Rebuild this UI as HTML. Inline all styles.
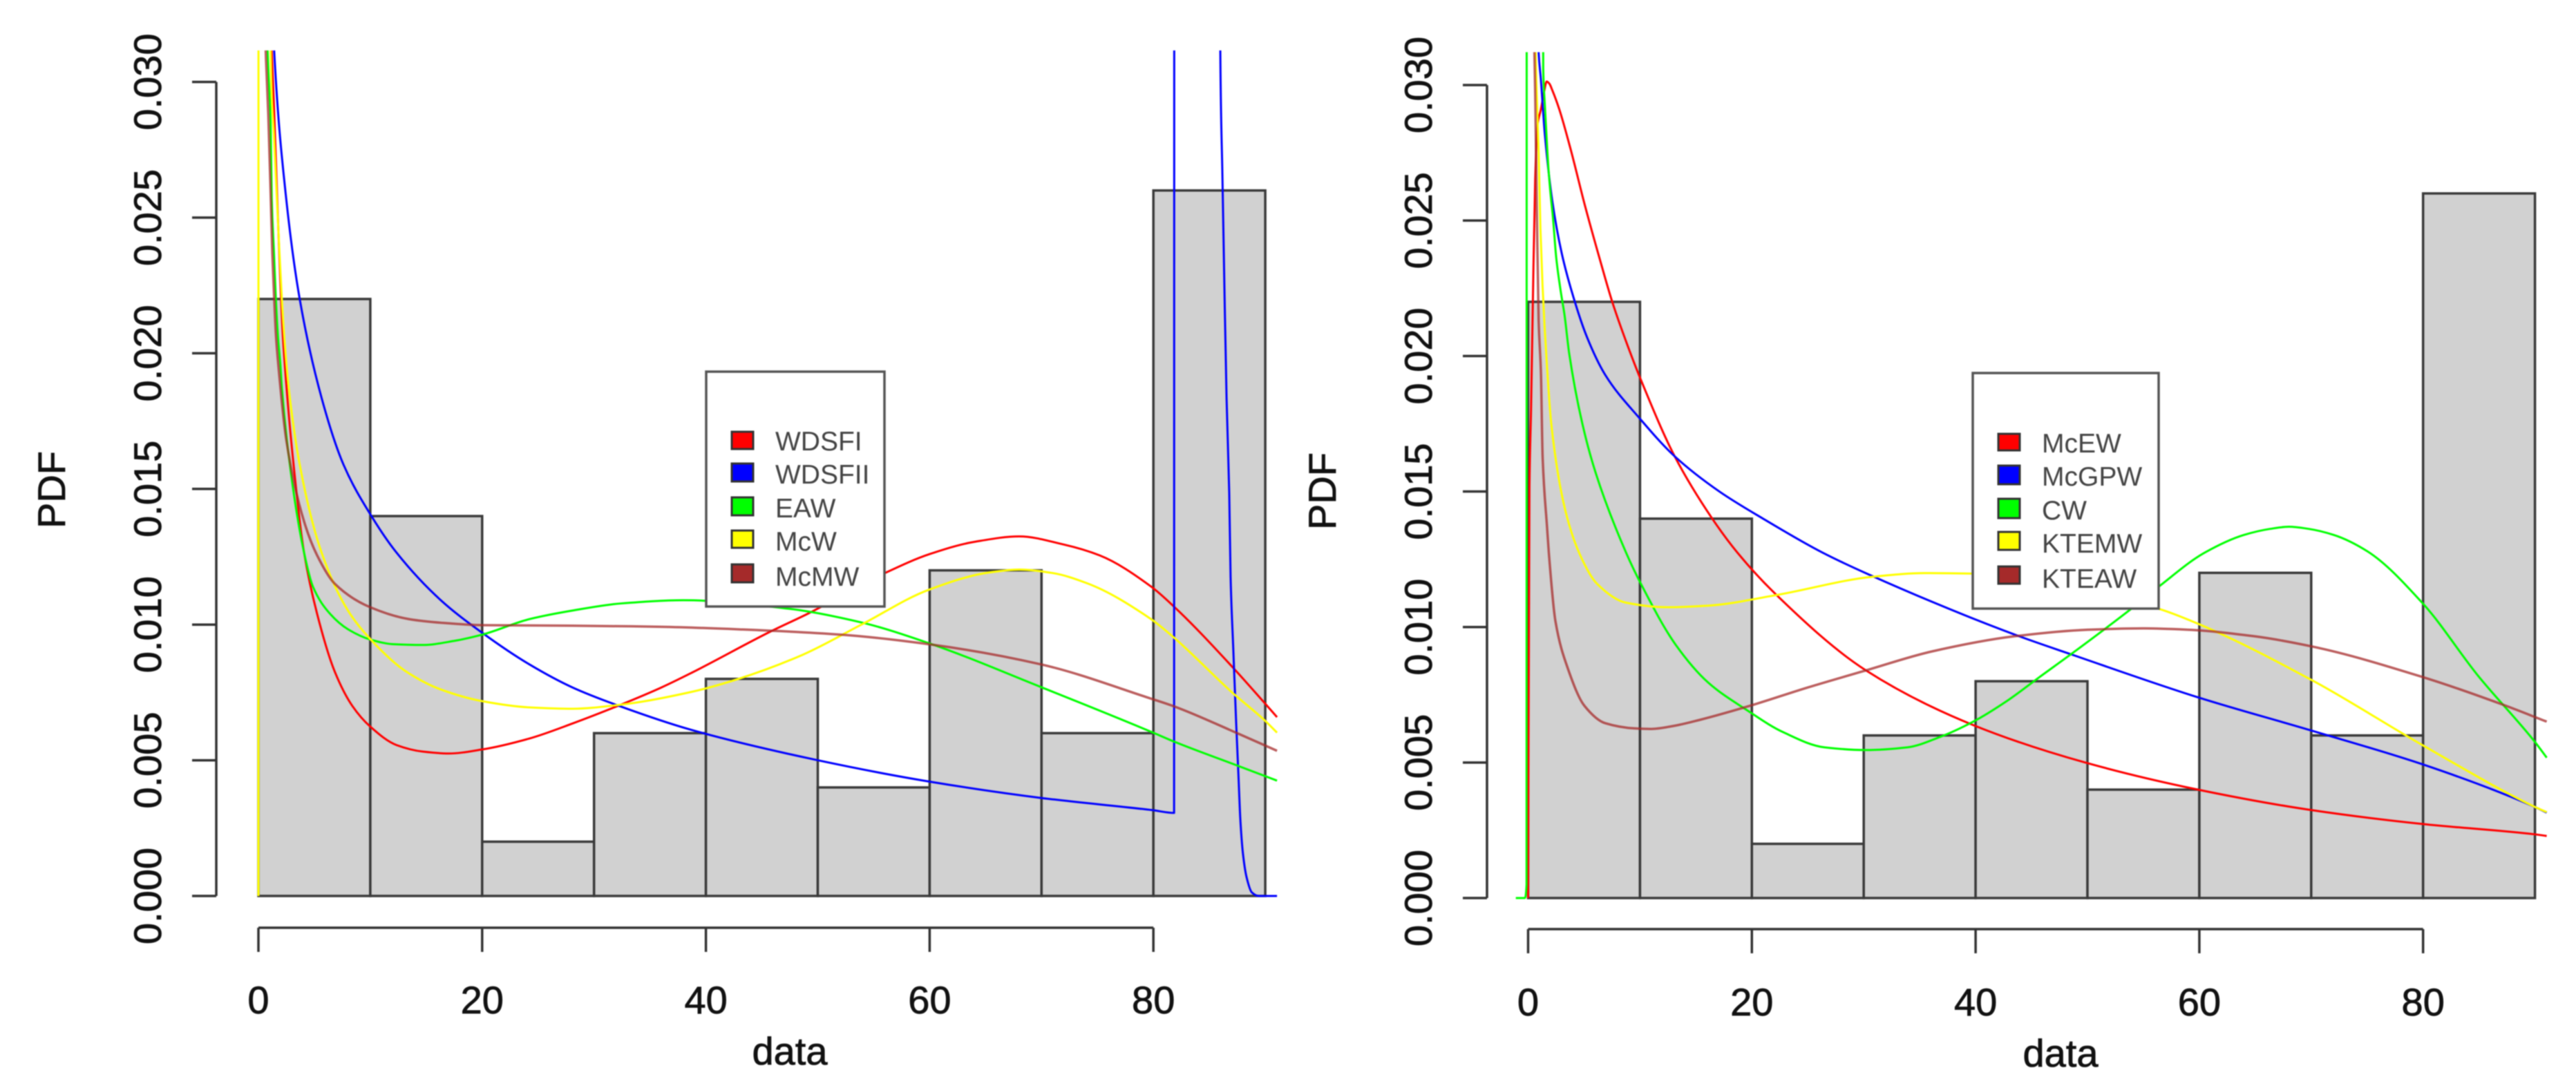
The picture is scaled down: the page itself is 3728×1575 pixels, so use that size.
<!DOCTYPE html>
<html lang="en">
<head>
<meta charset="utf-8">
<title>PDF histograms with fitted curves</title>
<style>
html,body{margin:0;padding:0;background:#fff;}
body{width:3728px;height:1575px;overflow:hidden;}
svg{display:block;filter:blur(0.7px);font-family:"Liberation Sans",sans-serif;}
.leg{font-size:39px;fill:#444;}
.sw{stroke:#333;stroke-width:3;}
.lb{fill:#fff;stroke:#555;stroke-width:3.5;}
</style>
</head>
<body>
<svg id="figure" xmlns="http://www.w3.org/2000/svg" width="3728" height="1575" viewBox="0 0 3728 1575">
  <defs>
    <clipPath id="clip-left"><rect x="300" y="73" width="1600" height="1300"/></clipPath>
    <clipPath id="clip-right"><rect x="2160" y="75.5" width="1600" height="1300"/></clipPath>
  </defs>
  <rect x="0" y="0" width="3728" height="1575" fill="#fff"/>
  <g id="left-panel"></g>
  <g>
    <rect class="lb" x="1022" y="538" width="258" height="340"/>
    <rect class="sw" x="1059" y="625" width="31" height="25" fill="#ff0000"/>
    <text class="leg" x="1122" y="652">WDSFI</text>
    <rect class="sw" x="1059" y="671" width="31" height="26" fill="#0000ff"/>
    <text class="leg" x="1122" y="700">WDSFII</text>
    <rect class="sw" x="1059" y="720" width="31" height="26" fill="#00ff00"/>
    <text class="leg" x="1122" y="749">EAW</text>
    <rect class="sw" x="1059" y="768" width="31" height="25" fill="#ffff00"/>
    <text class="leg" x="1122" y="797">McW</text>
    <rect class="sw" x="1059" y="817" width="31" height="26" fill="#a52a2a"/>
    <text class="leg" x="1122" y="848">McMW</text>
  </g>
  <g id="right-panel"></g>
  <g>
    <rect class="lb" x="2855" y="540" width="269" height="341"/>
    <rect class="sw" x="2892" y="628" width="31" height="24" fill="#ff0000"/>
    <text class="leg" x="2955" y="655">McEW</text>
    <rect class="sw" x="2892" y="674" width="31" height="27" fill="#0000ff"/>
    <text class="leg" x="2955" y="703">McGPW</text>
    <rect class="sw" x="2892" y="722" width="31" height="28" fill="#00ff00"/>
    <text class="leg" x="2955" y="752">CW</text>
    <rect class="sw" x="2892" y="770" width="31" height="26" fill="#ffff00"/>
    <text class="leg" x="2955" y="800">KTEMW</text>
    <rect class="sw" x="2892" y="820" width="31" height="25" fill="#a52a2a"/>
    <text class="leg" x="2955" y="851">KTEAW</text>
  </g>
</svg>
<script>
const binEdges = [0,10,20,30,40,50,60,70,80,90];
const binDensities = [0.022,0.014,0.002,0.006,0.008,0.004,0.012,0.006,0.026];
const xTicks = [0,20,40,60,80];
const xTickLabels = ['0','20','40','60','80'];
const yTicks = [0,0.005,0.01,0.015,0.02,0.025,0.03];
const yTickLabels = ['0.000','0.005','0.010','0.015','0.020','0.025','0.030'];
const xAxisTitle = 'data';
const yAxisTitle = 'PDF';

/* left panel */
const wdsfiX = [1.05,1.4,1.75,2.16,2.6,3.09,4.08,5.25,6.84,8.4,10,12.35,14.7,17,20,24.2,28.1,32.4,36,38.7,45.8,49.1,56,60,64,68,72,75.2,79.8,81.9,87.06,89.9,91.05];
const wdsfiY = [0.0325,0.029,0.0249,0.0208,0.0183,0.0161,0.01265,0.01039,0.00825,0.007,0.00624,0.00556,0.00532,0.00525,0.0054,0.0058,0.00636,0.00705,0.00768,0.00822,0.00975,0.0104,0.0119,0.0126,0.01305,0.01325,0.01295,0.01255,0.0114,0.01064,0.00844,0.00713,0.00659];
const wdsfiiX = [1.2,1.4,2.43,3.69,5.65,7.6,10.1,12.35,16.3,20,24.2,28.1,32.4,38.7,49.9,59.9,70,79.97,81.85,81.87,85.9,85.98,86.17,86.35,86.54,86.78,86.9,87.15,87.4,87.6,87.77,88,88.33,88.8,89.4,91.05];
const wdsfiiY = [0.0335,0.0312,0.0259,0.022,0.01835,0.0159,0.014,0.01265,0.0109,0.0097,0.00854,0.00768,0.00698,0.00612,0.00501,0.00422,0.00361,0.00316,0.00306,0.05,0.05,0.0312,0.02653,0.02238,0.01836,0.01484,0.01176,0.00901,0.00636,0.00448,0.00283,0.00158,0.00069,0.00013,0,0];
const eawX = [0.7,0.88,1.09,1.19,1.4,1.56,1.75,1.96,2.1,2.9,4.08,4.87,6.4,8,10,12,14.7,17.5,20,24.2,28.1,32.4,38,47.5,53.9,59.9,70,79.8,81.9,87.6,91.05];
const eawY = [0.0325,0.0305,0.0285,0.0257,0.0236,0.022,0.0206,0.0196,0.0187,0.0156,0.01265,0.0114,0.0104,0.00983,0.00945,0.00928,0.00925,0.0094,0.00963,0.0102,0.01052,0.01078,0.0109,0.01058,0.01008,0.00932,0.00769,0.00605,0.00568,0.00479,0.00425];
const mcwX = [0,0.01,1,1.09,1.4,1.8,2.12,2.64,3.69,5.65,8.03,10.2,13.1,16.3,20,24.2,28.1,32.4,38.7,42.9,48.6,53.9,59.9,65.3,68,71,74.1,79.8,81.9,87.06,89.9,91.05];
const mcwY = [0,0.05,0.05,0.0312,0.0279,0.0244,0.0218,0.019,0.0159,0.01265,0.0105,0.00938,0.0083,0.00761,0.00718,0.00695,0.0069,0.00705,0.00752,0.008,0.00888,0.01,0.01128,0.01192,0.01203,0.0119,0.01152,0.0102,0.0095,0.00749,0.00649,0.00602];
const mcmwX = [0.55,0.68,0.88,1.09,1.24,1.4,1.56,1.75,2.5,4.08,5.25,6.84,10,13.5,16.3,20,28,36,43.3,52.1,59.9,70,79.8,81.9,87.6,91.05];
const mcmwY = [0.0325,0.0308,0.0288,0.0259,0.0237,0.0221,0.0207,0.0197,0.01678,0.0138,0.01255,0.0115,0.01064,0.0102,0.01007,0.00998,0.00996,0.00992,0.00982,0.00963,0.00928,0.00853,0.00727,0.00698,0.00598,0.00535];

/* right panel */
const mcewX = [0,0.12,0.26,0.42,0.63,0.83,1.14,1.45,1.66,1.9,2.17,2.79,3.82,5.05,6.39,7.52,8.97,10.2,13.1,16.46,18.7,22.06,30.2,39.8,49.8,60,70.1,79.98,90,91.05];
const mcewY = [0,0.0152,0.018,0.0219,0.0265,0.0285,0.0291,0.0298,0.03013,0.03005,0.0298,0.0291,0.0276,0.0256,0.0236,0.022,0.0203,0.019,0.0163,0.014,0.01275,0.01124,0.0084,0.00638,0.005,0.00399,0.00324,0.00273,0.00235,0.00229];
const mcgpwX = [0.8,0.94,1.14,1.49,2.17,3,4.03,5.26,6.9,9.97,13.1,17.1,21,26.3,30.5,43.5,48.7,60,70.1,79.98,90,91.05];
const mcgpwY = [0.0335,0.0312,0.0302,0.0282,0.0257,0.0238,0.0222,0.0207,0.0193,0.0177,0.0163,0.015,0.0140,0.01275,0.01193,0.00972,0.00897,0.00739,0.00617,0.00493,0.00336,0.00315];
const cwX = [-1.1,-0.3,-0.14,-0.12,1.25,1.35,1.49,1.66,1.82,2,2.21,2.52,2.91,3.26,3.67,4.85,6.03,8.75,10.2,13.2,16.1,19.5,22.8,26.5,30.2,33.9,36.8,39.8,42.8,45.7,48.7,53.9,56.4,60.5,64,66.3,68,69.8,72,75,80,84.9,90,91.05];
const cwY = [0,0,0.0005,0.05,0.05,0.0306,0.0293,0.028,0.0269,0.026,0.02515,0.0236,0.0224,0.0215,0.0201,0.0175,0.0157,0.01275,0.0115,0.00934,0.00795,0.00695,0.00612,0.00556,0.00546,0.00556,0.00594,0.00651,0.00727,0.00815,0.00905,0.01067,0.0115,0.01275,0.0134,0.01362,0.0137,0.01362,0.0134,0.0128,0.01086,0.00821,0.00576,0.00518];
const ktemwX = [0.6,0.73,0.94,1.1,1.29,1.47,1.66,2.07,3.27,4.6,6.15,8.74,12.45,16.1,22.06,30.9,35.4,39.8,48,56.4,60,70.1,80,90,91.05];
const ktemwY = [0.0325,0.03016,0.0275,0.0247,0.0226,0.0211,0.0198,0.0175,0.0144,0.0127,0.0116,0.0109,0.01073,0.01079,0.01117,0.01186,0.01199,0.01197,0.0115,0.01067,0.0101,0.00803,0.00563,0.00336,0.00317];
const kteawX = [0.5,0.63,0.77,0.94,1.14,1.3,1.7,1.85,2.44,3.56,5.04,6.9,9.5,11,13,15.4,19.8,25,30.2,36.1,43.5,50,55,59,64.9,70.1,80,87.1,91.05];
const kteawY = [0.0325,0.02975,0.02567,0.02129,0.01945,0.01624,0.01364,0.01275,0.01022,0.00846,0.00709,0.00645,0.00626,0.00624,0.00635,0.00658,0.00709,0.00777,0.0084,0.0091,0.00966,0.0099,0.00995,0.0099,0.00966,0.00928,0.00815,0.00714,0.00651];

const SVGNS = 'http://www.w3.org/2000/svg';
const CURVE_COLORS = {red:'#ff0000',blue:'#0000ff',green:'#00ff00',yellow:'#ffff00',brown:'#a52a2a'};

function makeEl(tag, parent, attrs){
  const el = document.createElementNS(SVGNS, tag);
  for (const k in attrs) el.setAttribute(k, attrs[k]);
  parent.appendChild(el);
  return el;
}

/* monotone cubic path through the data points */
function monotonePath(px, py){
  const n = px.length;
  const d = [], m = new Array(n);
  for (let i = 0; i < n - 1; i++) d.push((py[i+1]-py[i])/(px[i+1]-px[i]));
  m[0] = d[0]; m[n-1] = d[n-2];
  for (let i = 1; i < n - 1; i++){
    if (d[i-1]*d[i] <= 0) m[i] = 0;
    else {
      const h0 = px[i]-px[i-1], h1 = px[i+1]-px[i];
      const w1 = 2*h1+h0, w2 = h1+2*h0;
      m[i] = (w1+w2)/(w1/d[i-1]+w2/d[i]);
    }
  }
  let s = 'M' + px[0].toFixed(2) + ' ' + py[0].toFixed(2);
  for (let i = 0; i < n - 1; i++){
    const h = (px[i+1]-px[i])/3;
    s += 'C' + (px[i]+h).toFixed(2) + ' ' + (py[i]+m[i]*h).toFixed(2) + ' ' +
         (px[i+1]-h).toFixed(2) + ' ' + (py[i+1]-m[i+1]*h).toFixed(2) + ' ' +
         px[i+1].toFixed(2) + ' ' + py[i+1].toFixed(2);
  }
  return s;
}

function drawPanel(rootId, clipId, xScale, yScale, layout, series){
  const root = document.getElementById(rootId);
  const bars = makeEl('g', root, {});
  
  
  binDensities.forEach(function(v, i){
    const x0 = xScale(binEdges[i]), x1 = xScale(binEdges[i+1]);
    const el = makeEl('rect', bars, {x:x0, y:yScale(v), width:x1-x0, height:yScale(0)-yScale(v), fill:'#d1d1d1', stroke:'#3a3a3a', 'stroke-width':3.5});
    
    
  });

  const yAxis = makeEl('g', root, {stroke:'#333', 'stroke-width':3.5, fill:'none'});
  
  
  makeEl('line', yAxis, {x1:layout.yAxisX, x2:layout.yAxisX, y1:yScale(yTicks[0]), y2:yScale(yTicks[yTicks.length-1])});
  yTicks.forEach(function(v, i){
    const yp = yScale(v);
    const t = makeEl('line', yAxis, {x1:layout.yAxisX, x2:layout.yAxisX-35, y1:yp, y2:yp});
    
    
    const lab = makeEl('text', root, {x:layout.yLabelX, y:yp, fill:'#111', stroke:'#111', 'stroke-width':0.8, 'font-size':56, 'text-anchor':'middle', transform:'rotate(-90 '+layout.yLabelX+' '+yp+')'});
    lab.textContent = yTickLabels[i];
    
    
  });

  const xAxis = makeEl('g', root, {stroke:'#333', 'stroke-width':3.5, fill:'none'});
  
  
  makeEl('line', xAxis, {x1:xScale(xTicks[0]), x2:xScale(xTicks[xTicks.length-1]), y1:layout.xAxisY, y2:layout.xAxisY});
  xTicks.forEach(function(v, i){
    const xp = xScale(v);
    const t = makeEl('line', xAxis, {x1:xp, x2:xp, y1:layout.xAxisY, y2:layout.xAxisY+35});
    
    
    const lab = makeEl('text', root, {x:xp, y:layout.xLabelY, fill:'#111', stroke:'#111', 'stroke-width':0.8, 'font-size':56, 'text-anchor':'middle'});
    lab.textContent = xTickLabels[i];
    
    
  });

  const xt = makeEl('text', root, {x:layout.xTitleX, y:layout.xTitleY, fill:'#111', stroke:'#111', 'stroke-width':0.8, 'font-size':56, 'text-anchor':'middle'});
  xt.textContent = xAxisTitle;
  
  
  const yt = makeEl('text', root, {x:layout.yTitleX, y:layout.yTitleY, fill:'#111', stroke:'#111', 'stroke-width':0.8, 'font-size':56, 'text-anchor':'middle', transform:'rotate(-90 '+layout.yTitleX+' '+layout.yTitleY+')'});
  yt.textContent = yAxisTitle;
  
  

  const curves = makeEl('g', root, {'clip-path':'url(#'+clipId+')', fill:'none'});
  
  
  series.forEach(function(s){
    const el = makeEl('path', curves, {
      d: monotonePath(s.xs.map(xScale), s.ys.map(yScale)),
      stroke: CURVE_COLORS[s.color],
      'stroke-width': s.color === 'brown' ? 3.5 : 3,
      'stroke-opacity': s.color === 'brown' ? 0.75 : 1,
      'stroke-linejoin': 'round'
    });
    
    
  });
}

const xLeft = function(v){ return 374 + 16.19*v; };
const yLeft = function(v){ return 1297 - 39280*v; };
const xRight = function(v){ return 2211.5 + 16.19*v; };
const yRight = function(v){ return 1300 - 39230*v; };

drawPanel('left-panel', 'clip-left', xLeft, yLeft,
  {yAxisX:313, yLabelX:233, xAxisY:1343, xLabelY:1467, xTitleX:1143, xTitleY:1541, yTitleX:94, yTitleY:709},
  [
    {name:'curve-wdsfi', color:'red', xs:wdsfiX, ys:wdsfiY},
    {name:'curve-wdsfii', color:'blue', xs:wdsfiiX, ys:wdsfiiY},
    {name:'curve-eaw', color:'green', xs:eawX, ys:eawY},
    {name:'curve-mcw', color:'yellow', xs:mcwX, ys:mcwY},
    {name:'curve-mcmw', color:'brown', xs:mcmwX, ys:mcmwY}
  ]);

drawPanel('right-panel', 'clip-right', xRight, yRight,
  {yAxisX:2152, yLabelX:2072, xAxisY:1345, xLabelY:1470, xTitleX:2982, xTitleY:1544, yTitleX:1933, yTitleY:711},
  [
    {name:'curve-mcew', color:'red', xs:mcewX, ys:mcewY},
    {name:'curve-mcgpw', color:'blue', xs:mcgpwX, ys:mcgpwY},
    {name:'curve-cw', color:'green', xs:cwX, ys:cwY},
    {name:'curve-ktemw', color:'yellow', xs:ktemwX, ys:ktemwY},
    {name:'curve-kteaw', color:'brown', xs:kteawX, ys:kteawY}
  ]);
</script>
</body>
</html>
